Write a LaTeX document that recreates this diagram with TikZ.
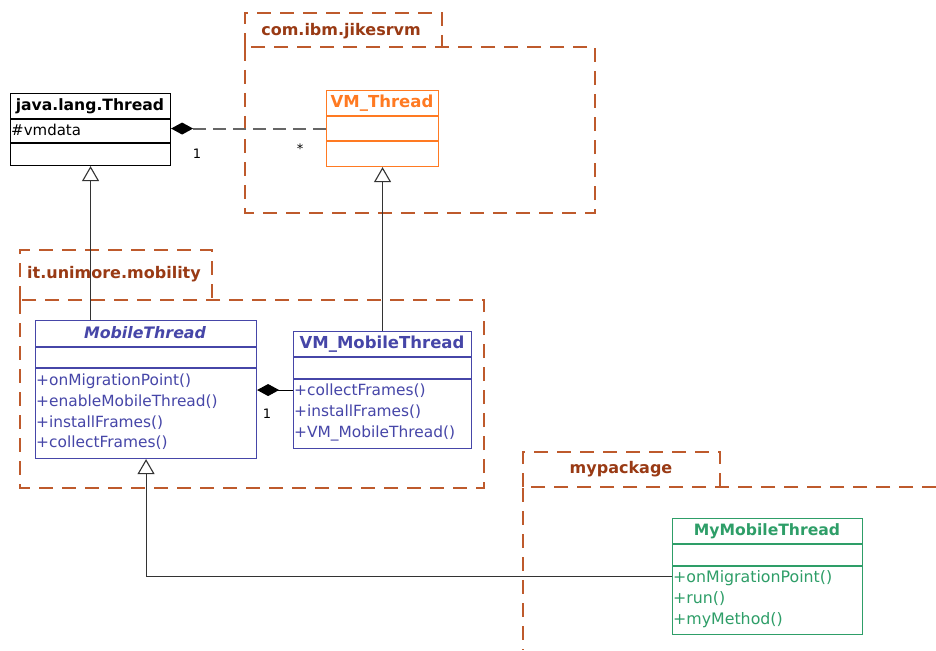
\documentclass[tikz,border=0pt]{standalone}
\usepackage{fontspec}
\setmainfont{DejaVu Sans}
\usetikzlibrary{arrows.meta}

\definecolor{pkgbrown}{HTML}{BE5A2C}
\definecolor{pkgtext}{HTML}{993A14}
\definecolor{vmorange}{HTML}{FF7A22}
\definecolor{mobblue}{HTML}{4646A8}
\definecolor{mygreen}{HTML}{2E9E68}

\tikzset{
  pkgline/.style={draw=pkgbrown, line width=1.8pt, dash pattern=on 14pt off 9pt},
  pkgname/.style={text=pkgtext, font=\bfseries\fontsize{16}{18}\selectfont},
  classbox/.style={draw, line width=1.1pt, inner sep=0pt, anchor=north west},
  classname/.style={font=\bfseries\fontsize{16.5}{18}\selectfont},
  member/.style={anchor=west, inner sep=1pt, font=\fontsize{15.4}{17}\selectfont},
  mult/.style={font=\fontsize{13}{15}\selectfont},
  inherit/.style={draw=black!80, line width=1.1pt, -{Triangle[open, width=17pt, length=15pt, line width=1.1pt]}},
  compose/.style={line width=1.4pt, -{Diamond[width=12pt, length=22pt, color=black, fill=black]}}
}

\begin{document}
\begin{tikzpicture}[x=1pt, y=-1pt]
	\useasboundingbox[fill=white] (0,0) rectangle (936,650);

	% packages
	\draw[pkgline] (245,47) -- (245,13) -- (442,13) -- (442,47);
	\draw[pkgline] (245,47) rectangle (595,213);
	\node[pkgname] (ibmname) at (341,31) {com.ibm.jikesrvm};

	\draw[pkgline] (20,300) -- (20,250) -- (212,250) -- (212,300);
	\draw[pkgline] (20,300) rectangle (484,488);
	\node[pkgname] (unimorename) at (114,274) {it.unimore.mobility};

	\draw[pkgline] (523,487) -- (523,452) -- (720,452) -- (720,487);
	\draw[pkgline] (936,487) -- (523,487) -- (523,650);
	\node[pkgname] (mypkgname) at (621,469) {mypackage};

	% java.lang.Thread
	\node[classbox, minimum width=160pt, minimum height=72pt] (thread) at (10,93) {};
	\draw[line width=1.1pt] (10,119) -- (170,119);
	\draw[line width=1.1pt] (10,143) -- (170,143);
	\node[classname, font=\bfseries\fontsize{15.6}{18}\selectfont] (threadname) at (90,106) {java.lang.Thread};
	\node[member, font=\fontsize{15}{17}\selectfont] (vmdata) at (10,130) {\#vmdata};

	% VM_Thread
	\node[classbox, draw=vmorange, minimum width=112pt, minimum height=76pt] (vmthread) at (326,90) {};
	\draw[vmorange, line width=1.1pt] (326,116) -- (438,116);
	\draw[vmorange, line width=1.1pt] (326,141) -- (438,141);
	\node[classname, text=vmorange] (vmthreadname) at (382,103) {VM\_Thread};

	% MobileThread
	\node[classbox, draw=mobblue, minimum width=221pt, minimum height=138pt] (mobile) at (35,320) {};
	\draw[mobblue, line width=1.1pt] (35,347) -- (256,347);
	\draw[mobblue, line width=1.1pt] (35,368) -- (256,368);
	\node[classname, text=mobblue, font=\bfseries\itshape\fontsize{15.8}{18}\selectfont] (mobilename) at (145,333) {MobileThread};
	\node[member, text=mobblue] (m1) at (35,381) {+onMigrationPoint()};
	\node[member, text=mobblue] (m2) at (35,402) {+enableMobileThread()};
	\node[member, text=mobblue] (m3) at (35,423) {+installFrames()};
	\node[member, text=mobblue] (m4) at (35,443) {+collectFrames()};

	% VM_MobileThread
	\node[classbox, draw=mobblue, minimum width=178pt, minimum height=117pt] (vmmobile) at (293,331) {};
	\draw[mobblue, line width=1.1pt] (293,357) -- (471,357);
	\draw[mobblue, line width=1.1pt] (293,379) -- (471,379);
	\node[classname, text=mobblue] (vmmobilename) at (382,344) {VM\_MobileThread};
	\node[member, text=mobblue] (v1) at (293,391) {+collectFrames()};
	\node[member, text=mobblue] (v2) at (293,412) {+installFrames()};
	\node[member, text=mobblue] (v3) at (293,433) {+VM\_MobileThread()};

	% MyMobileThread
	\node[classbox, draw=mygreen, minimum width=190pt, minimum height=116pt] (mymobile) at (672,518) {};
	\draw[mygreen, line width=1.1pt] (672,544) -- (862,544);
	\draw[mygreen, line width=1.1pt] (672,566) -- (862,566);
	\node[classname, text=mygreen, font=\bfseries\fontsize{15.6}{18}\selectfont] (mymobilename) at (767,531) {MyMobileThread};
	\node[member, text=mygreen, font=\fontsize{15.8}{18}\selectfont] (y1) at (672,578) {+onMigrationPoint()};
	\node[member, text=mygreen, font=\fontsize{15.8}{18}\selectfont] (y2) at (672,599) {+run()};
	\node[member, text=mygreen, font=\fontsize{15.8}{18}\selectfont] (y3) at (672,620) {+myMethod()};

	% relations
	\draw[compose, draw=black!60, line width=2pt, dash pattern=on 13pt off 7pt] (vmthread.west) -- (vmthread.west -| thread.east);
	\node[mult] (one) at (197,154) {1};
	\node[mult] (many) at (300,149) {*};
	\draw[compose, line width=1.1pt] (vmmobile.west) -- (vmmobile.west -| mobile.east);
	\node[mult] (onebis) at (267,414) {1};

	\draw[inherit] (thread.south |- mobile.north) -- (thread.south);
	\draw[inherit] (vmmobile.north) -- (vmthread.south);
	\draw[inherit] (mymobile.west) -| (mobile.south);
\end{tikzpicture}
\end{document}
